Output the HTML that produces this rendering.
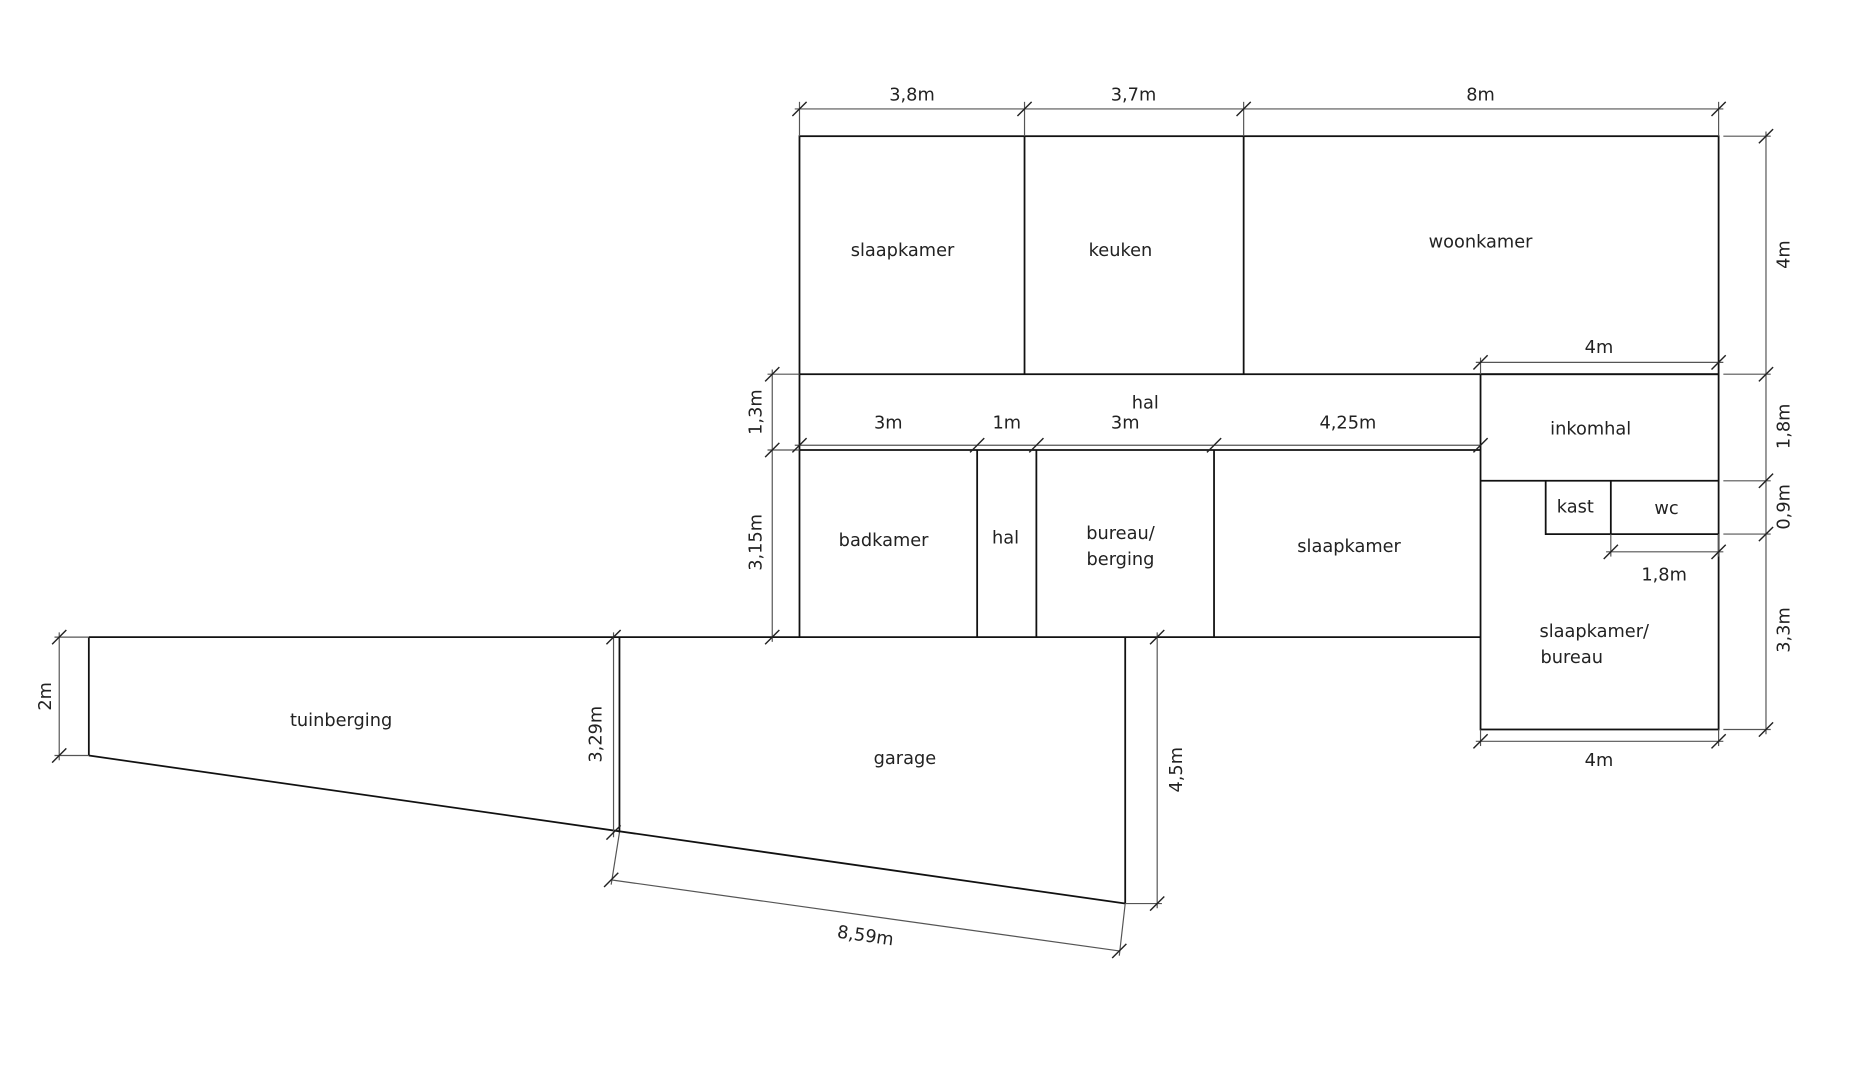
<!DOCTYPE html>
<html><head><meta charset="utf-8"><style>
html,body{margin:0;padding:0;background:#fff;}
svg{display:block;}
text{font-family:"DejaVu Sans","Liberation Sans",sans-serif;font-size:15px;fill:#222;}
</style></head><body>
<svg width="1856" height="1080" viewBox="0 0 1567 912" preserveAspectRatio="none" xmlns="http://www.w3.org/2000/svg">
<defs><path id="t" d="M-6,6 L6,-6" stroke="#222" stroke-width="1.2"/></defs>
<g stroke="#111" stroke-width="1.5" fill="none">
<rect x="675" y="115" width="776" height="201"/>
<line x1="865" y1="115" x2="865" y2="316"/>
<line x1="1050" y1="115" x2="1050" y2="316"/>
<line x1="675" y1="316" x2="675" y2="538"/>
<line x1="675" y1="380" x2="1250" y2="380"/>
<line x1="825" y1="380" x2="825" y2="538"/>
<line x1="875" y1="380" x2="875" y2="538"/>
<line x1="1025" y1="380" x2="1025" y2="538"/>
<rect x="1250" y="316" width="201" height="300"/>
<line x1="1250" y1="406" x2="1451" y2="406"/>
<polyline points="1305,406 1305,451 1451,451"/>
<line x1="1360" y1="406" x2="1360" y2="451"/>
<line x1="75" y1="538" x2="1250" y2="538"/>
<line x1="75" y1="538" x2="75" y2="638"/>
<line x1="75" y1="638" x2="950" y2="763"/>
<line x1="523" y1="538" x2="523" y2="703"/>
<line x1="950" y1="538" x2="950" y2="763"/>
</g>
<g stroke="#555" stroke-width="1" fill="none">
<line x1="671" y1="92" x2="1455" y2="92"/>
<line x1="675" y1="86" x2="675" y2="115"/><line x1="865" y1="86" x2="865" y2="115"/><line x1="1050" y1="86" x2="1050" y2="115"/><line x1="1451" y1="86" x2="1451" y2="115"/>
<line x1="1491" y1="111" x2="1491" y2="620"/>
<line x1="1455" y1="115" x2="1495" y2="115"/><line x1="1455" y1="316" x2="1495" y2="316"/><line x1="1455" y1="406" x2="1495" y2="406"/><line x1="1455" y1="451" x2="1495" y2="451"/><line x1="1455" y1="616" x2="1495" y2="616"/>
<line x1="1246" y1="306" x2="1455" y2="306"/><line x1="1250" y1="302" x2="1250" y2="316"/>
<line x1="1246" y1="626" x2="1455" y2="626"/><line x1="1250" y1="616" x2="1250" y2="630"/><line x1="1451" y1="616" x2="1451" y2="630"/>
<line x1="1356" y1="466" x2="1455" y2="466"/><line x1="1360" y1="451" x2="1360" y2="470"/><line x1="1451" y1="451" x2="1451" y2="470"/>
<line x1="652" y1="312" x2="652" y2="542"/>
<line x1="648" y1="316" x2="675" y2="316"/><line x1="648" y1="380" x2="675" y2="380"/>
<line x1="671" y1="376" x2="1250" y2="376"/>
<line x1="50" y1="534" x2="50" y2="642"/><line x1="46" y1="538" x2="75" y2="538"/><line x1="46" y1="638" x2="75" y2="638"/>
<line x1="518" y1="534" x2="518" y2="707"/>
<line x1="977" y1="534" x2="977" y2="767"/><line x1="950" y1="763" x2="981" y2="763"/>
<line x1="516" y1="743" x2="945" y2="803"/><line x1="523" y1="703" x2="516" y2="747"/><line x1="950" y1="763" x2="945" y2="807"/>
</g>
<g>
<use href="#t" x="675" y="92"/><use href="#t" x="865" y="92"/><use href="#t" x="1050" y="92"/><use href="#t" x="1451" y="92"/>
<use href="#t" x="1491" y="115"/><use href="#t" x="1491" y="316"/><use href="#t" x="1491" y="406"/><use href="#t" x="1491" y="451"/><use href="#t" x="1491" y="616"/>
<use href="#t" x="1250" y="306"/><use href="#t" x="1451" y="306"/>
<use href="#t" x="1250" y="626"/><use href="#t" x="1451" y="626"/>
<use href="#t" x="1360" y="466"/><use href="#t" x="1451" y="466"/>
<use href="#t" x="652" y="316"/><use href="#t" x="652" y="380"/><use href="#t" x="652" y="538"/>
<use href="#t" x="675" y="376"/><use href="#t" x="825" y="376"/><use href="#t" x="875" y="376"/><use href="#t" x="1025" y="376"/><use href="#t" x="1250" y="376"/>
<use href="#t" x="50" y="538"/><use href="#t" x="50" y="638"/>
<use href="#t" x="518" y="538"/><use href="#t" x="518" y="703"/>
<use href="#t" x="977" y="538"/><use href="#t" x="977" y="763"/>
<use href="#t" x="516" y="743"/><use href="#t" x="945" y="803"/>
</g>
<g text-anchor="middle">
<text x="770" y="85">3,8m</text><text x="957" y="85">3,7m</text><text x="1250" y="85">8m</text>
<text x="1350" y="298">4m</text><text x="1350" y="647">4m</text><text x="1405" y="490">1,8m</text>
<text x="750" y="362">3m</text><text x="850" y="362">1m</text><text x="950" y="362">3m</text><text x="1138" y="362">4,25m</text>
<text x="967" y="345">hal</text>
<text transform="translate(1511,215) rotate(-90)">4m</text>
<text transform="translate(1511,360) rotate(-90)">1,8m</text>
<text transform="translate(1511,428) rotate(-90)">0,9m</text>
<text transform="translate(1511,532) rotate(-90)">3,3m</text>
<text transform="translate(643,348) rotate(-90)">1,3m</text>
<text transform="translate(643,458) rotate(-90)">3,15m</text>
<text transform="translate(43,588) rotate(-90)">2m</text>
<text transform="translate(508,620) rotate(-90)">3,29m</text>
<text transform="translate(998,650) rotate(-90)">4,5m</text>
<text transform="translate(730,795) rotate(8)">8,59m</text>
<text x="762" y="216">slaapkamer</text><text x="946" y="216">keuken</text><text x="1250" y="209">woonkamer</text>
<text x="1343" y="367">inkomhal</text><text x="1330" y="433">kast</text><text x="1407" y="434">wc</text>
<text x="746" y="461">badkamer</text><text x="849" y="459">hal</text>
<text x="946" y="455">bureau/</text><text x="946" y="477">berging</text>
<text x="1139" y="466">slaapkamer</text>
<text x="1346" y="538">slaapkamer/</text><text x="1327" y="560">bureau</text>
<text x="288" y="613">tuinberging</text><text x="764" y="645">garage</text>
</g>
</svg>
</body></html>
